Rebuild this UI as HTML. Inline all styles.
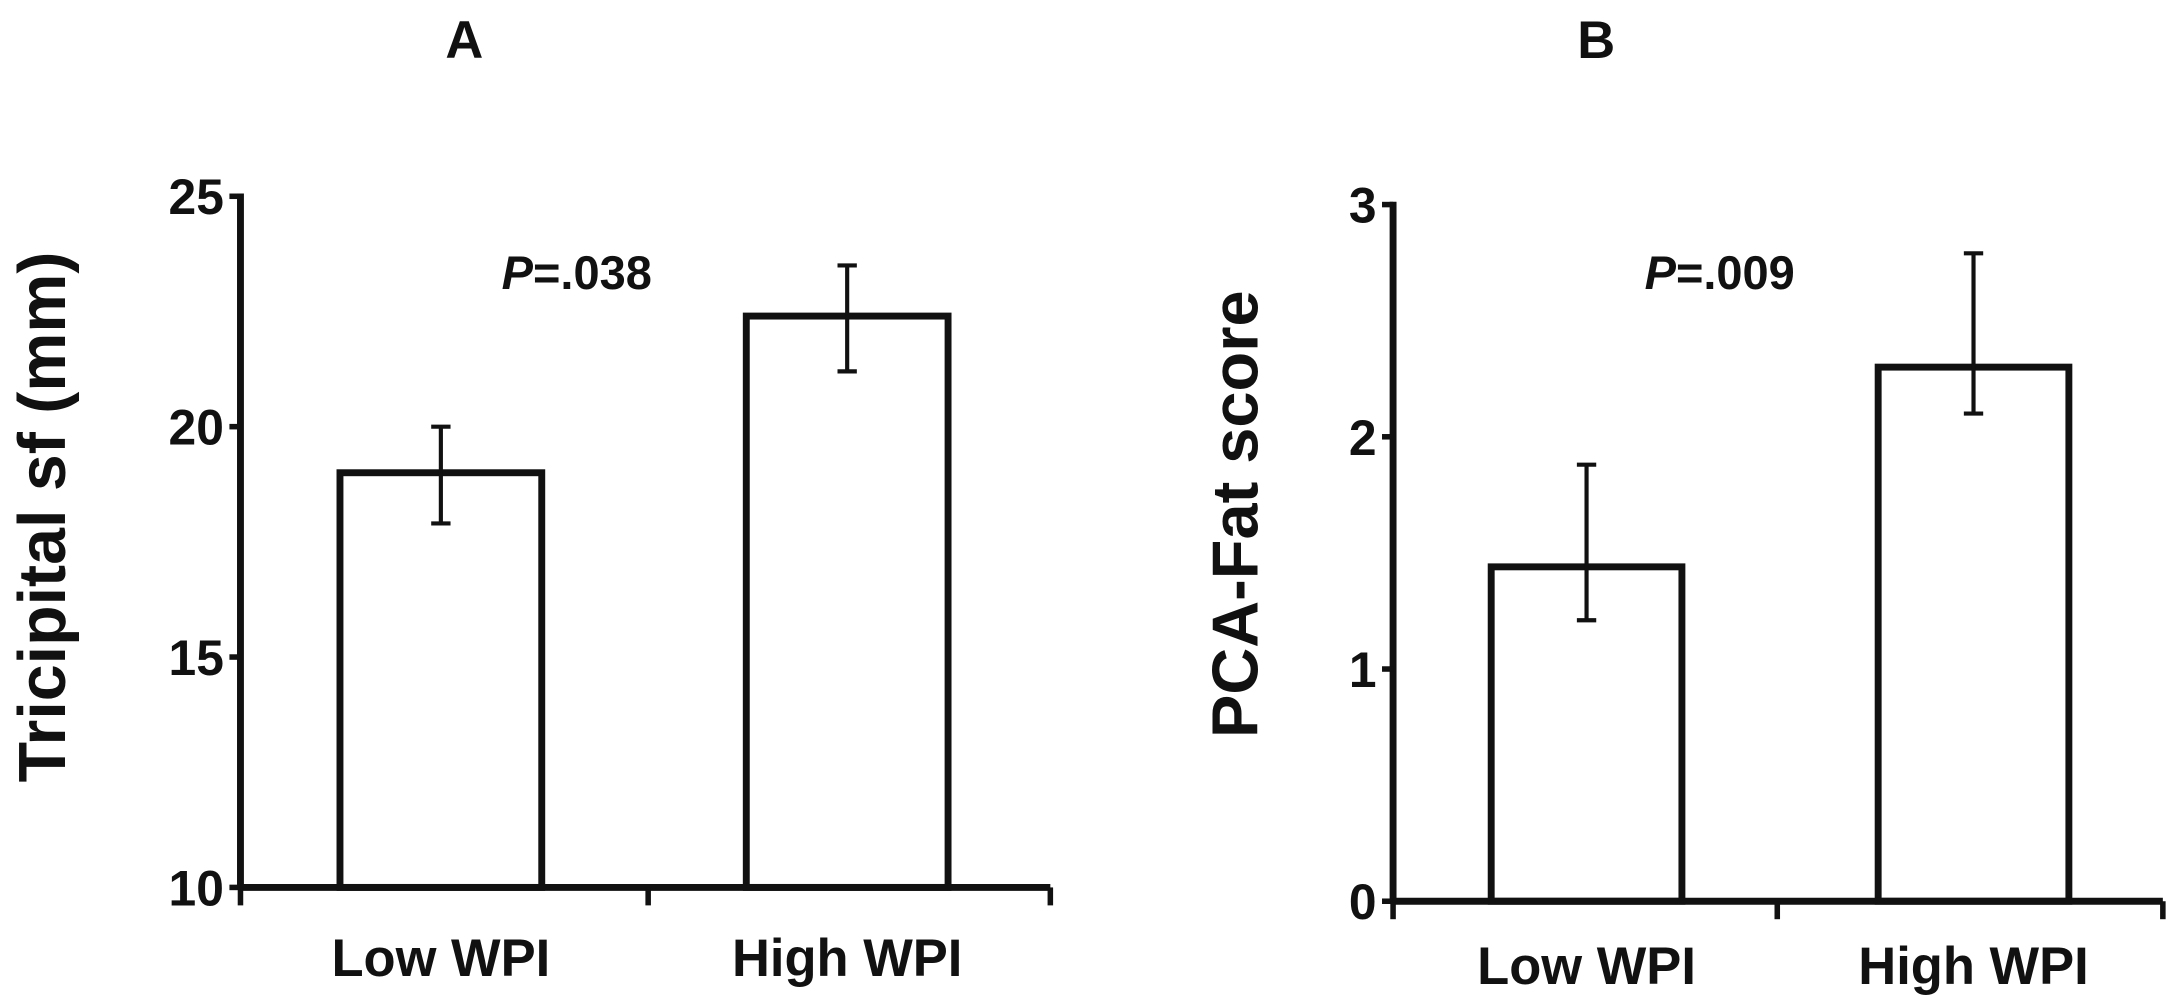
<!DOCTYPE html>
<html><head><meta charset="utf-8"><style>
html,body{margin:0;padding:0;background:#fff;}
svg{display:block;}
text{font-family:"Liberation Sans",Arial,sans-serif;font-weight:bold;fill:#111;}
</style></head><body>
<svg id="chart" width="2167" height="998" viewBox="0 0 1568 722" preserveAspectRatio="none" xmlns="http://www.w3.org/2000/svg"></svg>
<script>
const categories = ["Low WPI", "High WPI"];
const aMeans = [19.0, 22.4];
const aErrHi = [20.0, 23.5];
const aErrLo = [17.9, 21.2];
const aTicks = [10, 15, 20, 25];
const bMeans = [1.44, 2.30];
const bErrHi = [1.88, 2.79];
const bErrLo = [1.21, 2.10];
const bTicks = [0, 1, 2, 3];

const svg = document.getElementById('chart');
const NS = 'http://www.w3.org/2000/svg';
function mk(tag, attrs, parent) {
  const e = document.createElementNS(NS, tag);
  for (const k in attrs) e.setAttribute(k, attrs[k]);
  (parent || svg).appendChild(e);
  return e;
}
function panel(cfg) {
  const g = mk('g', {});
  
  
  const y = v => cfg.y0 + (v - cfg.vmin) / (cfg.vmax - cfg.vmin) * (cfg.y1 - cfg.y0);
  cfg.means.forEach((m, i) => {
    const r = mk('rect', {x: cfg.barX[i], y: y(m), width: cfg.barW, height: y(cfg.vmin) - y(m), fill: '#fff', stroke: '#111', 'stroke-width': 5}, g);
    
    
    const cx = cfg.barX[i] + cfg.barW / 2;
    const eg = mk('g', {stroke: '#111', 'stroke-width': 3}, g);
    
    
    mk('line', {x1: cx, x2: cx, y1: y(cfg.hi[i]), y2: y(cfg.lo[i])}, eg);
    mk('line', {x1: cx - 7, x2: cx + 7, y1: y(cfg.hi[i]), y2: y(cfg.hi[i])}, eg);
    mk('line', {x1: cx - 7, x2: cx + 7, y1: y(cfg.lo[i]), y2: y(cfg.lo[i])}, eg);
    const t = mk('text', {x: cx, y: cfg.catY, 'font-size': 38, 'text-anchor': 'middle'}, g);
    t.textContent = categories[i];
    
    
  });
  const ya = mk('line', {x1: cfg.ax, x2: cfg.ax, y1: y(cfg.vmax) - 2, y2: y(cfg.vmin), stroke: '#111', 'stroke-width': 5}, g);
  
  
  cfg.ticks.forEach(v => {
    mk('line', {x1: cfg.ax - 8, x2: cfg.ax, y1: y(v), y2: y(v), stroke: '#111', 'stroke-width': 4}, g);
    const t = mk('text', {x: cfg.ax - 12, y: y(v) + 13, 'font-size': 36, 'text-anchor': 'end'}, g);
    t.textContent = v;
    
    
  });
  const xa = mk('line', {x1: cfg.ax, x2: cfg.xEnd, y1: y(cfg.vmin), y2: y(cfg.vmin), stroke: '#111', 'stroke-width': 5}, g);
  
  
  cfg.xTicks.forEach(x => mk('line', {x1: x, x2: x, y1: y(cfg.vmin), y2: y(cfg.vmin) + 13, stroke: '#111', 'stroke-width': 4}, g));
  const tt = mk('text', {x: cfg.titleX, y: 42, 'font-size': 38, 'text-anchor': 'middle'}, g);
  tt.textContent = cfg.title;
  
  
  const p = mk('text', {x: cfg.pX, y: 209, 'font-size': 34}, g);
  p.innerHTML = '<tspan font-style="italic">P</tspan>' + cfg.p;
  
  
  const yt = mk('text', {x: 0, y: 0, 'font-size': cfg.ytSize, 'text-anchor': 'middle', transform: 'translate(' + cfg.ytX + ',' + cfg.ytY + ') rotate(-90)'}, g);
  yt.textContent = cfg.yTitle;
  
  
}
panel({name: 'panel-a', vmin: 10, vmax: 25, y0: 642, y1: 142, means: aMeans, hi: aErrHi, lo: aErrLo, ticks: aTicks,
  barX: [246, 540], barW: 146, ax: 174, xEnd: 760, xTicks: [174, 469, 760], catY: 706,
  title: 'A', titleX: 336, p: '=.038', pX: 363, yTitle: 'Tricipital sf (mm)', ytX: 47, ytY: 374, ytSize: 48});
panel({name: 'panel-b', vmin: 0, vmax: 3, y0: 652, y1: 148, means: bMeans, hi: bErrHi, lo: bErrLo, ticks: bTicks,
  barX: [1079, 1359], barW: 138, ax: 1008, xEnd: 1565, xTicks: [1008, 1286, 1565], catY: 712,
  title: 'B', titleX: 1155, p: '=.009', pX: 1190, yTitle: 'PCA-Fat score', ytX: 910, ytY: 372, ytSize: 47});
</script>
</body></html>
